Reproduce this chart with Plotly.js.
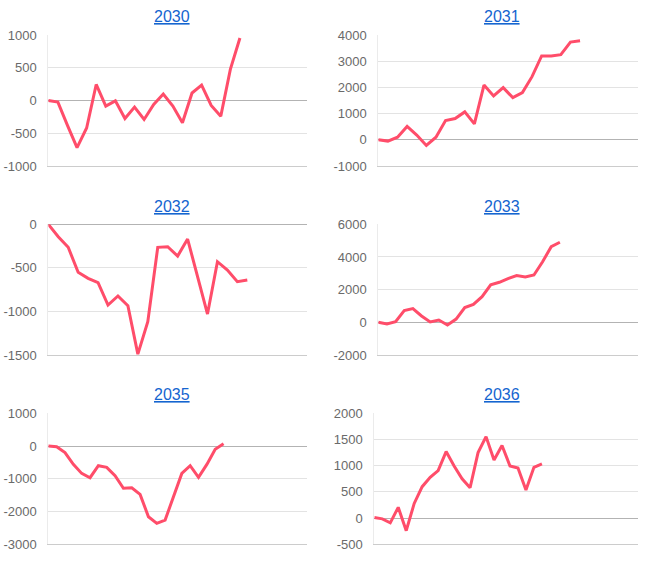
<!DOCTYPE html>
<html>
<head>
<meta charset="utf-8">
<script src="https://cdn.plot.ly/plotly-3.0.1.min.js"></script>
<style>
  html, body { margin: 0; padding: 0; background: #fff; }
  #chart { width: 666px; height: 562px; }
</style>
</head>
<body>
<div id="chart"></div>
<script>
// one series per year
var years = ['2030', '2031', '2032', '2033', '2035', '2036'];

var v2030 = [0, -25, -380, -720, -420, 245, -85, -5, -275, -100, -290, -60, 100, -85, -340, 115, 235, -75, -240, 475, 955];
var v2031 = [0, -50, 100, 510, 180, -215, 100, 735, 810, 1065, 610, 2090, 1675, 1990, 1610, 1800, 2410, 3200, 3200, 3250, 3730, 3780];
var v2032 = [0, -142, -264, -551, -620, -670, -926, -823, -934, -1490, -1118, -264, -257, -365, -169, -590, -1030, -429, -525, -659, -639];
var v2033 = [0, -100, 40, 715, 840, 390, 20, 140, -160, 200, 900, 1100, 1570, 2290, 2450, 2680, 2860, 2780, 2900, 3710, 4630, 4900];
var v2035 = [0, -20, -200, -560, -835, -967, -600, -650, -905, -1290, -1272, -1476, -2158, -2360, -2260, -1550, -835, -600, -955, -560, -100, 70];
var v2036 = [10, -15, -90, 205, -240, 280, 600, 780, 905, 1270, 995, 750, 580, 1250, 1555, 1110, 1385, 995, 955, 535, 970, 1035];

var series = [v2030, v2031, v2032, v2033, v2035, v2036];

// axis ticks per panel
var ticks = [
    [-1000, -500, 0, 500, 1000],
    [-1000, 0, 1000, 2000, 3000, 4000],
    [-1500, -1000, -500, 0],
    [-2000, 0, 2000, 4000, 6000],
    [-3000, -2000, -1000, 0, 1000],
    [-500, 0, 500, 1000, 1500, 2000]
];
var xMax = [27, 27, 26, 30, 31, 33];

// panel boxes in pixels: left, right, top, bottom
var W = 666, H = 562;
var boxes = [
    [48.3, 307, 35, 166],
    [378.3, 637.7, 35, 166],
    [48.3, 307, 224.3, 355],
    [378.3, 637.7, 224.3, 355],
    [48.3, 307, 413.3, 544.3],
    [374.3, 637.7, 413.3, 544.3]
];
var titlePos = [[172, 16.5], [502, 16.5], [172, 206], [502, 206], [172, 394.5], [502, 394.5]];

var font = 'Liberation Sans, Arial, sans-serif';
var traces = [];
var layout = {
    width: W,
    height: H,
    margin: { l: 0, r: 0, t: 0, b: 0 },
    paper_bgcolor: '#ffffff',
    plot_bgcolor: '#ffffff',
    showlegend: false,
    font: { family: font },
    annotations: []
};

series.forEach(function(vals, i) {
    var n = i + 1;
    var xs = vals.map(function(v, k) { return k; });
    traces.push({
        x: xs,
        y: vals,
        type: 'scatter',
        mode: 'lines',
        line: { color: '#ff4d6a', width: 3 },
        xaxis: 'x' + n,
        yaxis: 'y' + n,
        hoverinfo: 'skip'
    });

    var b = boxes[i];
    var t = ticks[i];
    layout['xaxis' + n] = {
        domain: [b[0] / W, b[1] / W],
        range: [0, xMax[i]],
        anchor: 'y' + n,
        showgrid: false,
        zeroline: false,
        showticklabels: false,
        ticks: '',
        showline: true,
        linecolor: '#cccccc',
        linewidth: 1,
        fixedrange: true
    };
    layout['yaxis' + n] = {
        domain: [1 - b[3] / H, 1 - b[2] / H],
        range: [t[0], t[t.length - 1]],
        anchor: 'x' + n,
        tickmode: 'array',
        tickvals: t,
        ticktext: t.map(function(v) { return String(v); }),
        tickfont: { family: font, size: 13, color: '#6a6a6a' },
        ticks: '',
        ticklabelstandoff: 8,
        showgrid: true,
        gridcolor: '#e3e3e3',
        zeroline: true,
        zerolinecolor: '#b3b3b3',
        zerolinewidth: 1,
        showline: true,
        linecolor: '#ebebeb',
        fixedrange: true
    };
    layout.annotations.push({
        text: '<span style="text-decoration:underline">' + years[i] + '</span>',
        xref: 'paper',
        yref: 'paper',
        x: titlePos[i][0] / W,
        y: 1 - titlePos[i][1] / H,
        xanchor: 'center',
        yanchor: 'middle',
        showarrow: false,
        font: { family: font, size: 16, color: '#1565d0' }
    });
});

Plotly.newPlot('chart', traces, layout, { displayModeBar: false, staticPlot: true });
</script>
</body>
</html>
